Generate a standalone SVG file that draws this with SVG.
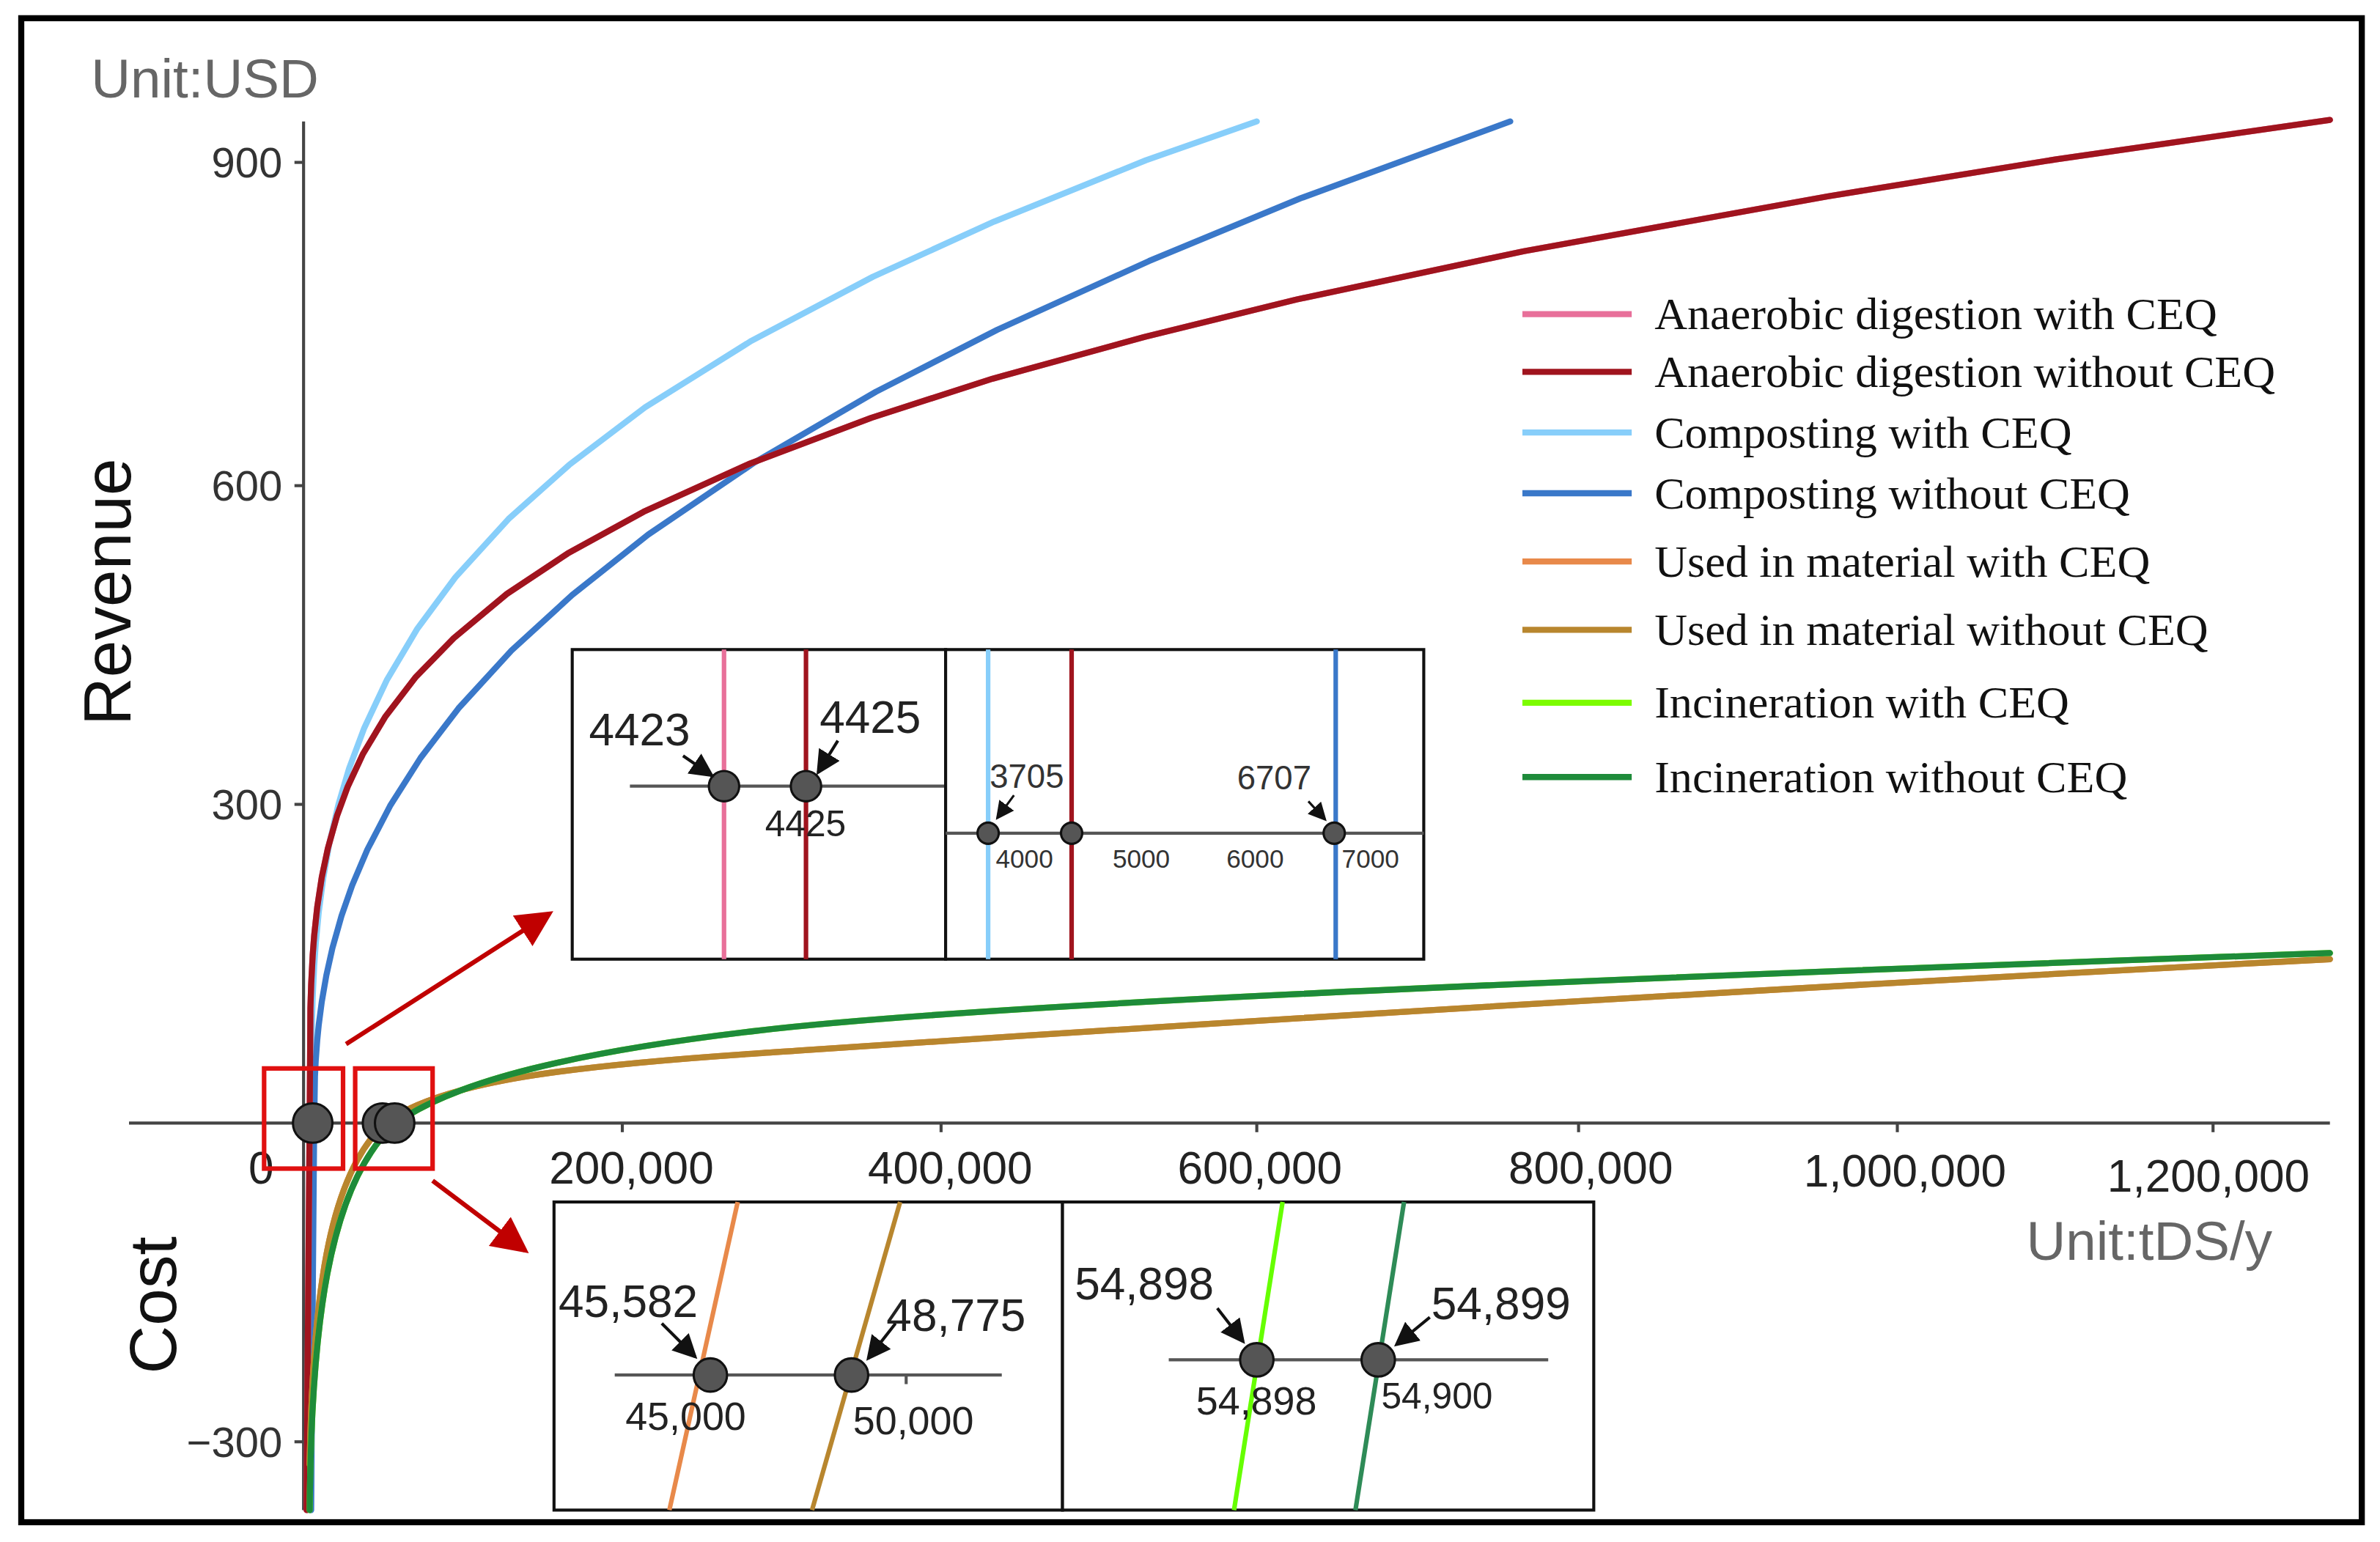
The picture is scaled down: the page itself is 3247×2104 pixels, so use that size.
<svg xmlns="http://www.w3.org/2000/svg" width="3247" height="2104" viewBox="0 0 3247 2104">
<defs>
<style>
.c{fill:none;stroke-width:4;stroke-linejoin:round;stroke-linecap:round}
.t{font-family:"Liberation Sans",Arial,sans-serif}
.lg{font-family:"Liberation Serif","Times New Roman",serif;font-size:30px;fill:#111}
.dot{fill:#555;stroke:#111;stroke-width:1.5}
.box{fill:#fff;stroke:#111;stroke-width:2}
.rb{fill:none;stroke:#e01010;stroke-width:3}
</style>
<marker id="ra" markerWidth="8" markerHeight="8" refX="7" refY="4" orient="auto" markerUnits="strokeWidth"><path d="M0,0 L8,4 L0,8 z" fill="#c00000"/></marker>
<marker id="ba" markerWidth="8" markerHeight="8" refX="7" refY="4" orient="auto" markerUnits="strokeWidth"><path d="M0,0 L8,4 L0,8 z" fill="#111"/></marker>
</defs>
<rect width="3247" height="2104" fill="#fff"/>
<g transform="scale(2.0708)">
<rect x="14" y="12" width="1542" height="991" fill="none" stroke="#000" stroke-width="4"/>
<g id="axes" stroke="#444" stroke-width="2">
<line x1="200" y1="80" x2="200" y2="995"/>
<line x1="85" y1="740" x2="1535" y2="740"/>
<line x1="194" y1="107" x2="200" y2="107"/><line x1="194" y1="320" x2="200" y2="320"/><line x1="194" y1="530" x2="200" y2="530"/><line x1="194" y1="950" x2="200" y2="950"/>
<line x1="410" y1="740" x2="410" y2="746"/><line x1="620" y1="740" x2="620" y2="746"/><line x1="828" y1="740" x2="828" y2="746"/><line x1="1040" y1="740" x2="1040" y2="746"/><line x1="1250" y1="740" x2="1250" y2="746"/><line x1="1458" y1="740" x2="1458" y2="746"/>
</g>
<g id="labels" class="t">
<text x="60" y="64" font-size="36" fill="#666">Unit:USD</text>
<text x="1335" y="830" font-size="36" fill="#666">Unit:tDS/y</text>
<text transform="translate(86,390) rotate(-90)" font-size="44" text-anchor="middle" fill="#111">Revenue</text>
<text transform="translate(116,860) rotate(-90)" font-size="44" text-anchor="middle" fill="#111">Cost</text>
<g font-size="28" fill="#333" text-anchor="end">
<text x="186" y="117">900</text><text x="186" y="330">600</text><text x="186" y="540">300</text><text x="186" y="960">−300</text>
</g>
<g font-size="30" fill="#222" text-anchor="middle">
<text x="172" y="780">0</text><text x="416" y="780">200,000</text><text x="626" y="780">400,000</text><text x="830" y="780">600,000</text><text x="1048" y="780">800,000</text><text x="1255" y="782">1,000,000</text><text x="1455" y="785">1,200,000</text>
</g>
</g>
<g id="connectors">
<polyline class="c" stroke="#87CEFA" points="204,995 205,740 205.5,674 206,657.4 207,636.7 208,622.2 210,601.1 213,578.4 217,555.6 223,530 230,506.3 240,479.6 255,447.8 275,414.2 300,380.4 335,342 375,306.3 425,268.4 495,224.6 575,182.4 655,146 755,105.6 828,80"/>
<polyline class="c" stroke="#3A78C9" points="205,995 206,860 207,740 207.5,709.4 208,699.1 209,685.4 210,675.3 212,660 215,642.7 219,624.7 225,603.5 232,583.4 242,559.9 257,531 277,499.5 302,466.8 337,428.6 377,392 427,352.3 497,304.8 577,258.2 657,217.3 757,172 857,130.6 995,80"/>
<polyline class="c" stroke="#E8709A" points="202,995 203,860 204,740 204.5,664.5 205,648.6 206,629.4 207,616.3 209,597.7 212,578 216,559 222,537.6 229,518.5 239,497 254,472 274,446 299,420.4 334,391.3 374,364.7 424,337.2 494,305.5 574,275.3 654,249.5 754,222 854,197.4 1004,165.5 1204,129.4 1354,105.1 1535,79"/>
<polyline class="c" stroke="#A0141E" points="202,995 203,860 204,740 204.5,664.5 205,648.6 206,629.4 207,616.3 209,597.7 212,578 216,559 222,537.6 229,518.5 239,497 254,472 274,446 299,420.4 334,391.3 374,364.7 424,337.2 494,305.5 574,275.3 654,249.5 754,222 854,197.4 1004,165.5 1204,129.4 1354,105.1 1535,79"/>
<path class="c" stroke="#E8894A" d="M204,965 C206,860 215,775 254,740 C290,712 380,702 500,694 S1000,660 1535,632"/>
<path class="c" stroke="#B8862E" d="M204,965 C206,860 215,775 254,740 C290,712 380,702 500,694 S1000,660 1535,632"/>
<path class="c" stroke="#7CFC00" d="M204,995 C205,880 215,780 261,740 C300,712 380,693 500,679 S900,650 1535,628"/>
<path class="c" stroke="#1E8B3A" d="M204,995 C205,880 215,780 261,740 C300,712 380,693 500,679 S900,650 1535,628"/>
<line x1="228" y1="688" x2="362" y2="602" stroke="#c00000" stroke-width="3" marker-end="url(#ra)"/>
<line x1="285" y1="778" x2="346" y2="824" stroke="#c00000" stroke-width="3" marker-end="url(#ra)"/>
</g>
<g id="markers">
<circle class="dot" cx="206" cy="740" r="13"/>
<circle class="dot" cx="252" cy="740" r="13"/>
<circle class="dot" cx="260" cy="740" r="13"/>
<rect class="rb" x="174" y="704" width="52" height="66"/>
<rect class="rb" x="234" y="704" width="51" height="66"/>
</g>
<g id="legend">
<g stroke-width="4">
<line x1="1003" y1="207" x2="1075" y2="207" stroke="#E8709A"/>
<line x1="1003" y1="245" x2="1075" y2="245" stroke="#A0141E"/>
<line x1="1003" y1="285" x2="1075" y2="285" stroke="#87CEFA"/>
<line x1="1003" y1="325" x2="1075" y2="325" stroke="#3A78C9"/>
<line x1="1003" y1="370" x2="1075" y2="370" stroke="#E8894A"/>
<line x1="1003" y1="415" x2="1075" y2="415" stroke="#B8862E"/>
<line x1="1003" y1="463" x2="1075" y2="463" stroke="#7CFC00"/>
<line x1="1003" y1="512" x2="1075" y2="512" stroke="#1E8B3A"/>
</g>
<text class="lg" x="1090" y="217">Anaerobic digestion with CEQ</text>
<text class="lg" x="1090" y="255">Anaerobic digestion without CEQ</text>
<text class="lg" x="1090" y="295">Composting with CEQ</text>
<text class="lg" x="1090" y="335">Composting without CEQ</text>
<text class="lg" x="1090" y="380">Used in material with CEQ</text>
<text class="lg" x="1090" y="425">Used in material without CEQ</text>
<text class="lg" x="1090" y="473">Incineration with CEQ</text>
<text class="lg" x="1090" y="522">Incineration without CEQ</text>
</g>
<g id="inset-ad">
<rect class="box" x="377" y="428" width="246" height="204"/>
<line x1="477" y1="428" x2="477" y2="632" stroke="#E8709A" stroke-width="3"/>
<line x1="531" y1="428" x2="531" y2="632" stroke="#A0141E" stroke-width="3"/>
<line x1="415" y1="518" x2="623" y2="518" stroke="#555" stroke-width="2"/>
<circle class="dot" cx="477" cy="518" r="10"/><circle class="dot" cx="531" cy="518" r="10"/>
<line x1="450" y1="498" x2="469" y2="511" stroke="#111" stroke-width="2" marker-end="url(#ba)"/>
<line x1="552" y1="488" x2="539" y2="509" stroke="#111" stroke-width="2" marker-end="url(#ba)"/>
<g class="t" fill="#222"><text x="388" y="491" font-size="30">4423</text><text x="540" y="483" font-size="30">4425</text><text x="504" y="551" font-size="24">4425</text></g>
</g>
<g id="inset-comp">
<rect class="box" x="623" y="428" width="315" height="204"/>
<line x1="651" y1="428" x2="651" y2="632" stroke="#87CEFA" stroke-width="3"/>
<line x1="706" y1="428" x2="706" y2="632" stroke="#A0141E" stroke-width="3"/>
<line x1="880" y1="428" x2="880" y2="632" stroke="#3A78C9" stroke-width="3"/>
<line x1="623" y1="549" x2="938" y2="549" stroke="#555" stroke-width="2"/>
<circle class="dot" cx="651" cy="549" r="7"/><circle class="dot" cx="706" cy="549" r="7"/><circle class="dot" cx="879" cy="549" r="7"/>
<line x1="668" y1="524" x2="657" y2="539" stroke="#111" stroke-width="1.5" marker-end="url(#ba)"/>
<line x1="862" y1="528" x2="873" y2="540" stroke="#111" stroke-width="1.5" marker-end="url(#ba)"/>
<g class="t" fill="#333"><text x="652" y="519" font-size="22">3705</text><text x="815" y="520" font-size="22">6707</text>
<g font-size="17"><text x="656" y="572">4000</text><text x="733" y="572">5000</text><text x="808" y="572">6000</text><text x="884" y="572">7000</text></g></g>
</g>
<g id="inset-mat">
<rect class="box" x="365" y="792" width="335" height="203"/>
<line x1="441" y1="995" x2="486" y2="792" stroke="#E8894A" stroke-width="3"/>
<line x1="535" y1="995" x2="593" y2="792" stroke="#B8862E" stroke-width="3"/>
<line x1="405" y1="906" x2="660" y2="906" stroke="#555" stroke-width="2"/>
<line x1="597" y1="906" x2="597" y2="912" stroke="#555" stroke-width="2"/>
<circle class="dot" cx="468" cy="906" r="11"/><circle class="dot" cx="561" cy="906" r="11"/>
<line x1="436" y1="872" x2="458" y2="894" stroke="#111" stroke-width="2" marker-end="url(#ba)"/>
<line x1="590" y1="872" x2="572" y2="895" stroke="#111" stroke-width="2" marker-end="url(#ba)"/>
<g class="t" fill="#222"><text x="368" y="868" font-size="30">45,582</text><text x="584" y="877" font-size="30">48,775</text><text x="412" y="942" font-size="26">45,000</text><text x="562" y="945" font-size="26">50,000</text></g>
</g>
<g id="inset-inc">
<rect class="box" x="700" y="792" width="350" height="203"/>
<line x1="813" y1="995" x2="845" y2="792" stroke="#66FF00" stroke-width="3"/>
<line x1="893" y1="995" x2="925" y2="792" stroke="#2E8B57" stroke-width="3"/>
<line x1="770" y1="896" x2="1020" y2="896" stroke="#555" stroke-width="2"/>
<circle class="dot" cx="828" cy="896" r="11"/><circle class="dot" cx="908" cy="896" r="11"/>
<line x1="802" y1="862" x2="819" y2="884" stroke="#111" stroke-width="2" marker-end="url(#ba)"/>
<line x1="942" y1="868" x2="920" y2="886" stroke="#111" stroke-width="2" marker-end="url(#ba)"/>
<g class="t" fill="#222"><text x="708" y="856" font-size="30">54,898</text><text x="943" y="869" font-size="30">54,899</text><text x="788" y="932" font-size="26">54,898</text><text x="910" y="928" font-size="24">54,900</text></g>
</g>
</g>
</svg>
